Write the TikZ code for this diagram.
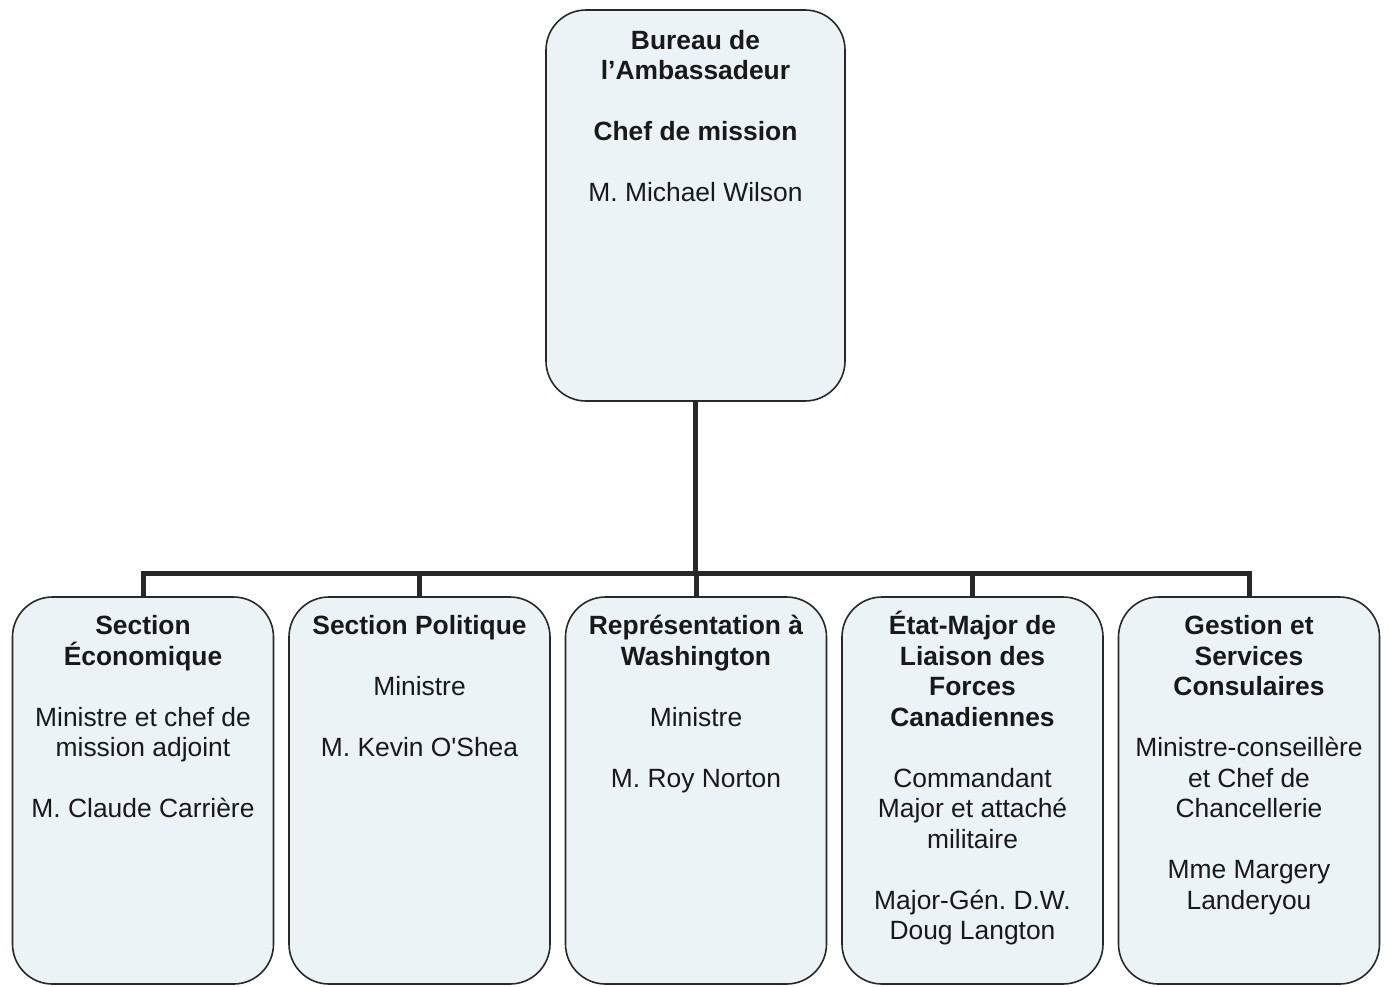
\documentclass[tikz,border=0pt]{standalone}
\usepackage{fontspec}
\setmainfont{Liberation Sans}[Ligatures=TeXOff]
\usetikzlibrary{backgrounds}
\frenchspacing
\definecolor{boxfill}{RGB}{236,243,246}
\definecolor{ink}{RGB}{40,40,40}
\definecolor{txt}{RGB}{25,25,25}
\newcommand\mytightlines{\lineskiplimit=-100pt\relax\lineskip=0pt\relax\frenchspacing}
\tikzset{
  orgbox/.style={draw=ink, line width=1.6pt, fill=boxfill, rounded corners=40pt, inner sep=0pt, outer sep=0pt},
  topbox/.style={orgbox, minimum width=299pt, minimum height=391pt},
  subbox/.style={orgbox, minimum width=261pt, minimum height=387pt},
  boxtext/.style={anchor=north, inner sep=0pt, align=center, text=txt, font=\fontsize{26.4}{30.5}\selectfont\mytightlines},
  bus/.style={draw=ink, line width=5pt, line join=miter, line cap=rect},
}
\begin{document}
\begin{tikzpicture}[x=1pt,y=-1pt]
\useasboundingbox (0,0) rectangle (1389,986);
\coordinate (busy) at (0,573);
\node[topbox] (amb) at (695.5,205.5) {};
\node[subbox] (b1) at (143,790.5) {};
\node[subbox] (b2) at (419.5,790.5) {};
\node[subbox] (b3) at (696,790.5) {};
\node[subbox] (b4) at (972.5,790.5) {};
\node[subbox] (b5) at (1249,790.5) {};
\begin{scope}[on background layer]
\draw[bus] (amb.south) -- (amb.south |- busy);
\draw[bus] (b1.north) -- (b1.north |- busy) -- (b5.north |- busy) -- (b5.north);
\draw[bus] (b2.north) -- (b2.north |- busy);
\draw[bus] (b3.north) -- (b3.north |- busy);
\draw[bus] (b4.north) -- (b4.north |- busy);
\end{scope}
\node[boxtext] (ambt) at ([yshift=-17.5pt]amb.north) {\strut\textbf{Bureau de}\\\textbf{l’Ambassadeur}\\[30.5pt]\textbf{Chef de mission}\\[30.5pt]M. Michael Wilson};
\node[boxtext] (b1t) at ([yshift=-16.2pt]b1.north) {\strut\textbf{Section}\\\textbf{Économique}\\[30.5pt]Ministre et chef de\\mission adjoint\\[30.5pt]M. Claude Carrière};
\node[boxtext] (b2t) at ([yshift=-16.2pt]b2.north) {\strut\textbf{Section Politique}\\[30.5pt]Ministre\\[30.5pt]M. Kevin O'Shea};
\node[boxtext] (b3t) at ([yshift=-16.2pt]b3.north) {\strut\textbf{Représentation à}\\\textbf{Washington}\\[30.5pt]Ministre\\[30.5pt]M. Roy Norton};
\node[boxtext] (b4t) at ([yshift=-16.2pt]b4.north) {\strut\textbf{\smash{É}tat-Major de}\\\textbf{Liaison des}\\\textbf{Forces}\\\textbf{Canadiennes}\\[30.5pt]Commandant\\Major et attaché\\militaire\\[30.5pt]Major-Gén. D.W.\\Doug Langton};
\node[boxtext] (b5t) at ([yshift=-16.2pt]b5.north) {\strut\textbf{Gestion et}\\\textbf{Services}\\\textbf{Consulaires}\\[30.5pt]Ministre-conseillère\\et Chef de\\Chancellerie\\[30.5pt]Mme Margery\\Landeryou};
\end{tikzpicture}
\end{document}
